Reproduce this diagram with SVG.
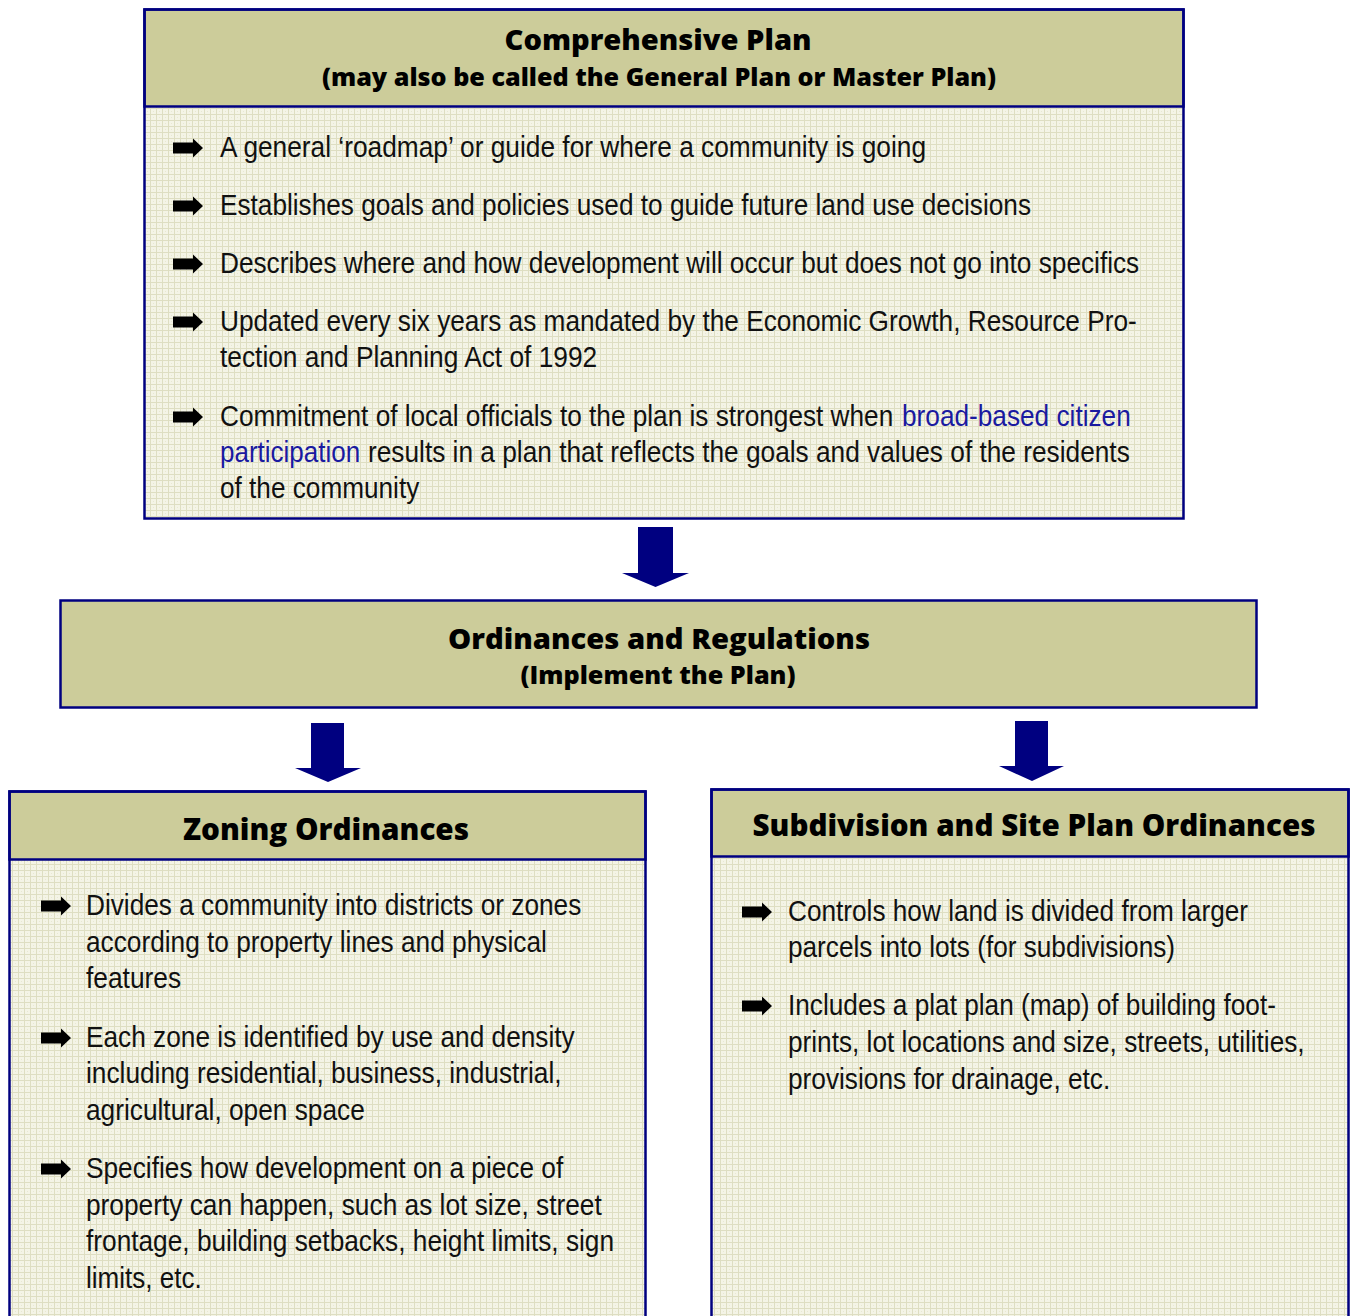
<svg xmlns="http://www.w3.org/2000/svg" width="1351" height="1316" viewBox="0 0 1351 1316">
<defs>
<pattern id="grid" width="6" height="6" patternUnits="userSpaceOnUse">
<rect width="6" height="6" fill="#f4f4e6"/>
<rect x="0" y="0" width="6" height="1" fill="#dedec2"/>
<rect x="0" y="0" width="1" height="6" fill="#dedec2"/>
<rect x="3" y="3" width="1" height="1" fill="#e8e8d2"/>
</pattern>
<path id="bul" d="M0,-5.5 H20 V-9.5 L30,0 L20,9.5 V5.5 H0 Z" fill="#000"/>
<style>
.body{fill:url(#grid);stroke:none}
.hdr{fill:#cccc9a;stroke:#000080;stroke-width:2.5}
.frame{fill:none;stroke:#000080;stroke-width:2.5}
.t{font-family:"Liberation Sans",Arial,sans-serif;font-size:29px;fill:#111}
.b{fill:#1a1aa0}
.h{font-family:"Open Sans","Noto Sans","DejaVu Sans",sans-serif;font-weight:800;fill:#000;text-anchor:middle}
.arr{fill:#000080}
</style>
</defs>
<rect width="1351" height="1316" fill="#fff"/>

<g id="comprehensive-plan">
<rect class="body" x="144" y="106" width="1040" height="413"/>
<rect class="hdr" x="144.5" y="9.5" width="1039" height="97"/>
<rect class="frame" x="144.5" y="9.5" width="1039" height="509"/>
<text class="h" x="658" y="50" font-size="28" textLength="307" lengthAdjust="spacingAndGlyphs">Comprehensive Plan</text>
<text class="h" x="659" y="86" font-size="24" textLength="674" lengthAdjust="spacingAndGlyphs">(may also be called the General Plan or Master Plan)</text>
<use href="#bul" x="173" y="148"/>
<text class="t" transform="translate(220,157) scale(0.82,1)" textLength="861" lengthAdjust="spacingAndGlyphs">A general ‘roadmap’ or guide for where a community is going</text>
<use href="#bul" x="173" y="206"/>
<text class="t" transform="translate(220,215) scale(0.82,1)" textLength="989" lengthAdjust="spacingAndGlyphs">Establishes goals and policies used to guide future land use decisions</text>
<use href="#bul" x="173" y="264"/>
<text class="t" transform="translate(220,273) scale(0.82,1)" textLength="1121" lengthAdjust="spacingAndGlyphs">Describes where and how development will occur but does not go into specifics</text>
<use href="#bul" x="173" y="322"/>
<text class="t" transform="translate(220,331) scale(0.82,1)" textLength="1118" lengthAdjust="spacingAndGlyphs">Updated every six years as mandated by the Economic Growth, Resource Pro-</text>
<text class="t" transform="translate(220,367) scale(0.82,1)" textLength="460" lengthAdjust="spacingAndGlyphs">tection and Planning Act of 1992</text>
<use href="#bul" x="173" y="417"/>
<text class="t" transform="translate(220,426) scale(0.82,1)" textLength="821" lengthAdjust="spacingAndGlyphs">Commitment of local officials to the plan is strongest when</text>
<text class="t b" transform="translate(902,426) scale(0.82,1)" textLength="279" lengthAdjust="spacingAndGlyphs">broad-based citizen</text>
<text class="t b" transform="translate(220,462) scale(0.82,1)" textLength="171" lengthAdjust="spacingAndGlyphs">participation</text>
<text class="t" transform="translate(368,462) scale(0.82,1)" textLength="929" lengthAdjust="spacingAndGlyphs">results in a plan that reflects the goals and values of the residents</text>
<text class="t" transform="translate(220,498) scale(0.82,1)" textLength="243" lengthAdjust="spacingAndGlyphs">of the community</text>
</g>

<g id="ordinances">
<rect class="hdr" x="60.5" y="600.5" width="1196" height="107"/>
<text class="h" x="659" y="649" font-size="29" textLength="422" lengthAdjust="spacingAndGlyphs">Ordinances and Regulations</text>
<text class="h" x="658" y="684" font-size="24" textLength="275" lengthAdjust="spacingAndGlyphs">(Implement the Plan)</text>
</g>

<g id="zoning">
<rect class="body" x="9" y="860" width="637" height="460"/>
<rect class="hdr" x="9.5" y="791.5" width="636" height="68"/>
<rect class="frame" x="9.5" y="791.5" width="636" height="540"/>
<text class="h" x="326" y="840" font-size="30" textLength="286" lengthAdjust="spacingAndGlyphs">Zoning Ordinances</text>
<use href="#bul" x="41" y="906"/>
<text class="t" transform="translate(86,915) scale(0.82,1)" textLength="604" lengthAdjust="spacingAndGlyphs">Divides a community into districts or zones</text>
<text class="t" transform="translate(86,952) scale(0.82,1)" textLength="562" lengthAdjust="spacingAndGlyphs">according to property lines and physical</text>
<text class="t" transform="translate(86,988) scale(0.82,1)" textLength="116" lengthAdjust="spacingAndGlyphs">features</text>
<use href="#bul" x="41" y="1038"/>
<text class="t" transform="translate(86,1047) scale(0.82,1)" textLength="596" lengthAdjust="spacingAndGlyphs">Each zone is identified by use and density</text>
<text class="t" transform="translate(86,1083) scale(0.82,1)" textLength="580" lengthAdjust="spacingAndGlyphs">including residential, business, industrial,</text>
<text class="t" transform="translate(86,1120) scale(0.82,1)" textLength="340" lengthAdjust="spacingAndGlyphs">agricultural, open space</text>
<use href="#bul" x="41" y="1169"/>
<text class="t" transform="translate(86,1178) scale(0.82,1)" textLength="582" lengthAdjust="spacingAndGlyphs">Specifies how development on a piece of</text>
<text class="t" transform="translate(86,1215) scale(0.82,1)" textLength="629" lengthAdjust="spacingAndGlyphs">property can happen, such as lot size, street</text>
<text class="t" transform="translate(86,1251) scale(0.82,1)" textLength="644" lengthAdjust="spacingAndGlyphs">frontage, building setbacks, height limits, sign</text>
<text class="t" transform="translate(86,1288) scale(0.82,1)" textLength="141" lengthAdjust="spacingAndGlyphs">limits, etc.</text>
</g>

<g id="subdivision">
<rect class="body" x="711" y="856" width="638" height="464"/>
<rect class="hdr" x="711.5" y="789.5" width="637" height="67"/>
<rect class="frame" x="711.5" y="789.5" width="637" height="540"/>
<text class="h" x="1034" y="836" font-size="30" textLength="563" lengthAdjust="spacingAndGlyphs">Subdivision and Site Plan Ordinances</text>
<use href="#bul" x="742" y="912"/>
<text class="t" transform="translate(788,921) scale(0.82,1)" textLength="561" lengthAdjust="spacingAndGlyphs">Controls how land is divided from larger</text>
<text class="t" transform="translate(788,957) scale(0.82,1)" textLength="472" lengthAdjust="spacingAndGlyphs">parcels into lots (for subdivisions)</text>
<use href="#bul" x="742" y="1006"/>
<text class="t" transform="translate(788,1015) scale(0.82,1)" textLength="595" lengthAdjust="spacingAndGlyphs">Includes a plat plan (map) of building foot-</text>
<text class="t" transform="translate(788,1052) scale(0.82,1)" textLength="630" lengthAdjust="spacingAndGlyphs">prints, lot locations and size, streets, utilities,</text>
<text class="t" transform="translate(788,1089) scale(0.82,1)" textLength="393" lengthAdjust="spacingAndGlyphs">provisions for drainage, etc.</text>
</g>

<g id="connectors">
<path class="arr" d="M638,527 H673 V573 H689 L655.5,587 L622,573 H638 Z"/>
<path class="arr" d="M311,723 H344 V768 H361 L328,782 L295,768 H311 Z"/>
<path class="arr" d="M1015,721 H1048 V766 H1064 L1032,781 L999,766 H1015 Z"/>
</g>
</svg>
